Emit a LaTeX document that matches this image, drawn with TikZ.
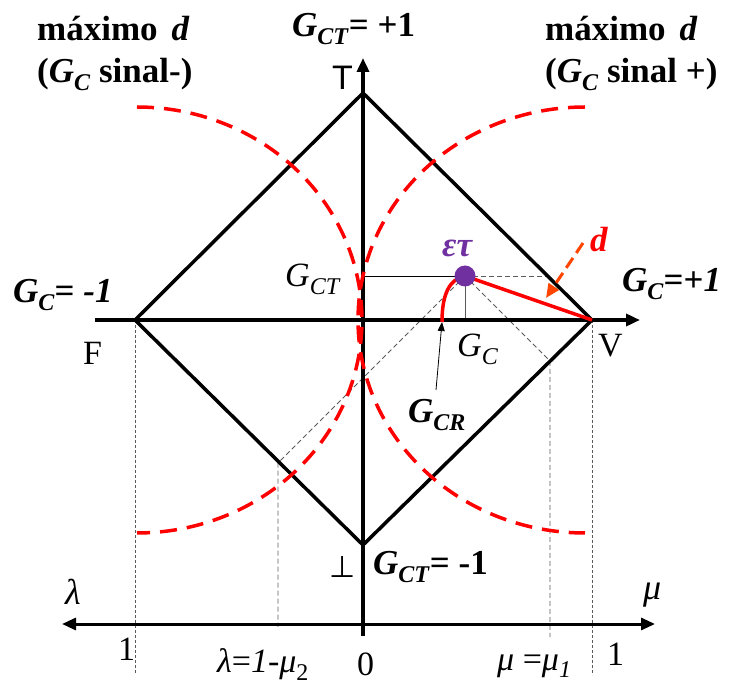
\documentclass[tikz,border=0pt]{standalone}
\usepackage{fontspec}
\setmainfont{Liberation Serif}
\newfontfamily\sansf{Liberation Sans}
\newfontfamily\dejavu{DejaVu Sans}
\usetikzlibrary{arrows.meta}
\definecolor{dotpurple}{RGB}{112,48,160}
\definecolor{dorange}{RGB}{255,69,0}
\definecolor{thingray}{RGB}{90,90,90}
\newcommand\sbs[1]{\raisebox{-8pt}{\fontsize{24}{24}\selectfont #1}}
\newcommand\fbig{\fontsize{35}{42}\selectfont}
\newcommand\freg{\fontsize{34}{40}\selectfont}
\tikzset{
  axisline/.style={line width=3.5pt,-{Triangle[length=14pt,width=12pt]}},
  diam/.style={line width=3.5pt},
  reddash/.style={red,line width=3.5pt,dash pattern=on 17pt off 10pt},
  thindash/.style={thingray,line width=0.8pt,dash pattern=on 5pt off 3pt},
  finedash/.style={thingray,line width=0.8pt,dash pattern=on 3pt off 2pt},
  lbl/.style={inner sep=0pt,anchor=base west},
}
\begin{document}
\begin{tikzpicture}[x=1pt,y=-1pt]
\useasboundingbox (0,0) rectangle (737,684);
% key points
\coordinate (O) at (363,320);
\coordinate (T) at (363,93);
\coordinate (V) at (592,320);
\coordinate (B) at (363,545);
\coordinate (F) at (135,320);
\coordinate (axL) at (95,320);
\coordinate (axR) at (640,320);
\coordinate (axTop) at (363,58);
\coordinate (axBot) at (363,636);
\coordinate (bL) at (62,624);
\coordinate (bR) at (655,624);
\coordinate (gct) at (363,276);
\coordinate (ect) at (548,276);
\coordinate (gc) at (465,320);
\coordinate (m1) at (550,361);
\coordinate (m1b) at (550,637);
\coordinate (l2) at (278,463);
\coordinate (l2b) at (278,627);
\coordinate (Fb) at (135,673);
\coordinate (Vb) at (592,675);
\coordinate (cr0) at (442,322);
\coordinate (crlab) at (436,390);
\coordinate (d1) at (583,243);
\coordinate (d2) at (546,298);
\coordinate (et0) at (465,276);
% thin guide lines
\draw[finedash] (F) -- (Fb);
\draw[finedash] (V) -- (Vb);
\draw[thindash] (et0) -- (m1) -- (m1b);
\draw[thindash] (et0) -- (l2) -- (l2b);
\draw[thindash] (et0) -- (ect);
\draw[line width=0.8pt] (gct) -- (et0);
\draw[thingray,line width=1pt] (et0) -- (gc);
% diamond and axes
\draw[diam] (T) -- (V) -- (B) -- (F) -- cycle;
\draw[axisline] (axL) -- (axR);
\draw[axisline] (axBot) -- (axTop);
\draw[line width=3pt,{Triangle[length=14pt,width=12pt]}-{Triangle[length=14pt,width=12pt]}] (bL) -- (bR);
% red dashed arcs
\draw[reddash] plot[domain=-90:90,samples=80,smooth] ({137+225*cos(\x)},{320+213*sin(\x)});
\draw[reddash] plot[domain=-90:90,samples=80,smooth] ({585-227*cos(\x)},{320+213*sin(\x)});
% red solid
\draw[red,line width=3.5pt] (et0) -- (V);
\draw[red,line width=3.5pt] (cr0) .. controls (442,293) and (450,279) .. (et0);
\draw[line width=0.8pt,-{Triangle[length=9pt,width=7pt]}] (crlab) -- (cr0);
\draw[dorange,line width=3pt,dash pattern=on 12pt off 6pt,-{Triangle[length=14pt,width=12pt]}] (d1) -- (d2);
\node[circle,fill=dotpurple,minimum size=21pt,inner sep=0pt] (et) at (et0) {};
% labels
\node[lbl] (h1) at (37,41) {\fbig\bfseries máximo\hspace{14pt}\textit{d}};
\node[lbl] (h2) at (37,83) {\fbig\bfseries (\textit{G}\sbs{\textit{C}} sinal-)};
\node[lbl] (h3) at (545,41) {\fbig\bfseries máximo\hspace{14pt}\textit{d}};
\node[lbl] (h4) at (545,83) {\fbig\bfseries (\textit{G}\sbs{\textit{C}} sinal +)};
\node[lbl] (gtop) at (292,37) {\fbig\bfseries\textit{G}\sbs{\textit{CT}}= +1};
\node[lbl] (tl) at (332,90) {\fontsize{34}{40}\selectfont\sansf T};
\node[lbl] (gcm) at (13,303) {\fbig\bfseries\textit{G}\sbs{\textit{C}}= \textit{-1}};
\node[lbl] (gcp) at (622,292) {\fbig\bfseries\textit{G}\sbs{\textit{C}}=+\textit{1}};
\node[lbl] (gbot) at (373,575) {\fbig\bfseries\textit{G}\sbs{\textit{CT}}= -1};
\node[lbl] (fl) at (83,365) {\freg F};
\node[lbl] (vl) at (598,357) {\freg V};
\node[lbl] (gctl) at (285,287) {\freg\textit{G}\sbs{\textit{CT}}};
\node[lbl] (gcl) at (457,357) {\freg\textit{G}\sbs{\textit{C}}};
\node[lbl] (gcrl) at (408,423) {\fbig\bfseries\textit{G}\sbs{\textit{CR}}};
\node[lbl,text=dotpurple] (etl) at (442,257) {\fbig\bfseries\itshape ετ};
\node[lbl,text=red] (dl) at (590,252) {\fbig\bfseries\itshape d};
\node[lbl] (perp) at (329,578) {\fontsize{30}{36}\selectfont\dejavu ⊥};
\node[lbl] (lam) at (65,605) {\fontsize{36}{40}\selectfont\itshape λ};
\node[lbl] (mu) at (643,600) {\fontsize{36}{40}\selectfont\itshape μ};
\node[lbl] (one1) at (118,660) {\freg 1};
\node[lbl] (lam2) at (217,672) {\freg\textit{λ}=\textit{1}-\textit{μ}\sbs{2}};
\node[lbl] (zero) at (357,675) {\freg 0};
\node[lbl] (mu1) at (497,670) {\freg\textit{μ} =\textit{μ}\sbs{\textit{1}}};
\node[lbl] (one2) at (607,665) {\freg 1};
\end{tikzpicture}
\end{document}
